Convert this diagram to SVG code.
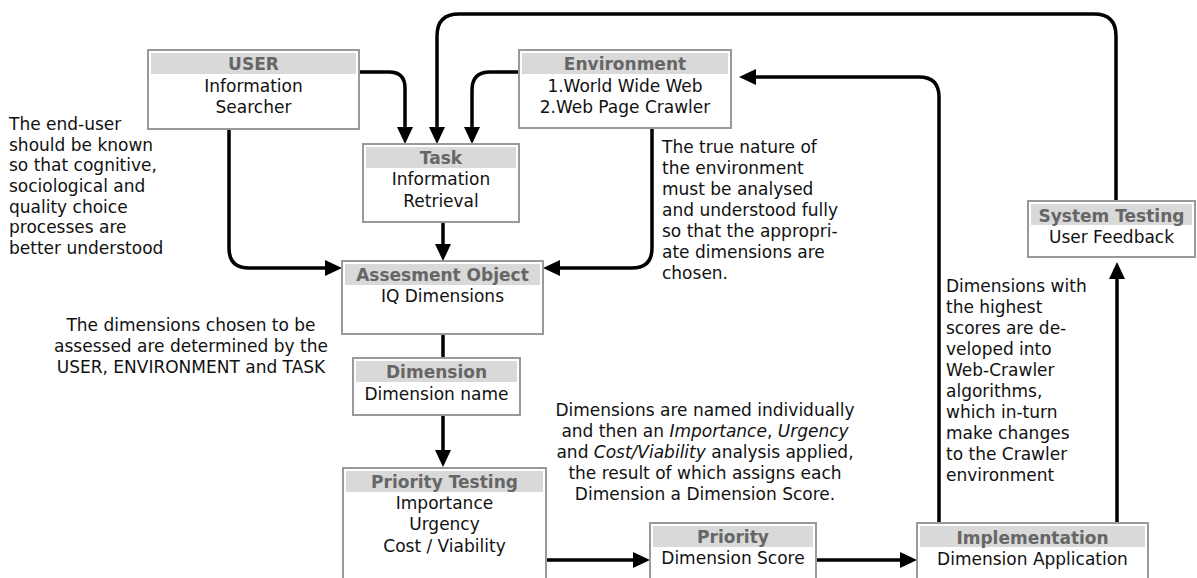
<svg xmlns="http://www.w3.org/2000/svg" width="1197" height="578" viewBox="0 0 1197 578">
<style>
  .box{fill:#fff;stroke:#999;stroke-width:2}
  .band{fill:#d9d9d9}
  .hd{font-family:"DejaVu Sans",Verdana,sans-serif;font-size:17px;font-weight:bold;fill:#666;text-anchor:middle}
  .tx{font-family:"DejaVu Sans",Verdana,sans-serif;font-size:17px;fill:#111;text-anchor:middle}
  .an{font-family:"DejaVu Sans",Verdana,sans-serif;font-size:17px;fill:#111}
  .c{text-anchor:middle}
  .ln{fill:none;stroke:#000;stroke-width:3.5}
  .it{font-style:italic}
</style>
<defs>
  <marker id="ah" markerUnits="userSpaceOnUse" markerWidth="18" markerHeight="16" refX="0" refY="8" orient="auto">
    <path d="M0,0 L17,8 L0,16 z" fill="#000"/>
  </marker>
</defs>

<g id="connectors">
  <path class="ln" d="M360 72 H389 Q405 72 405 88 V127" marker-end="url(#ah)"/>
  <path class="ln" d="M1116 201 V36 Q1116 14 1094 14 H459 Q437 14 437 36 V127" marker-end="url(#ah)"/>
  <path class="ln" d="M519 72 H490 Q472 72 472 90 V127" marker-end="url(#ah)"/>
  <path class="ln" d="M443 222 V244" marker-end="url(#ah)"/>
  <path class="ln" d="M229 129 V248 Q229 268 249 268 H325" marker-end="url(#ah)"/>
  <path class="ln" d="M652 128 V248 Q652 268 632 268 H560" marker-end="url(#ah)"/>
  <path class="ln" d="M443 334 V358"/>
  <path class="ln" d="M443 415 V450" marker-end="url(#ah)"/>
  <path class="ln" d="M546 560 H633" marker-end="url(#ah)"/>
  <path class="ln" d="M816 560 H900" marker-end="url(#ah)"/>
  <path class="ln" d="M939 523 V97 Q939 77 919 77 H756" marker-end="url(#ah)"/>
  <path class="ln" d="M1117 523 V279" marker-end="url(#ah)"/>
</g>

<g id="user">
  <rect class="box" x="148" y="50" width="211" height="79"/>
  <rect class="band" x="151" y="53" width="205" height="21"/>
  <text class="hd" x="253.5" y="70">USER</text>
  <text class="tx" x="253.5" y="92">Information</text>
  <text class="tx" x="253.5" y="113">Searcher</text>
</g>

<g id="environment">
  <rect class="box" x="519" y="50" width="212" height="78"/>
  <rect class="band" x="522" y="53" width="206" height="21"/>
  <text class="hd" x="625" y="70">Environment</text>
  <text class="tx" x="625" y="92">1.World Wide Web</text>
  <text class="tx" x="625" y="113">2.Web Page Crawler</text>
</g>

<g id="task">
  <rect class="box" x="363" y="144" width="156" height="78"/>
  <rect class="band" x="366" y="147" width="150" height="21"/>
  <text class="hd" x="441" y="164">Task</text>
  <text class="tx" x="441" y="185">Information</text>
  <text class="tx" x="441" y="207">Retrieval</text>
</g>

<g id="assessment">
  <rect class="box" x="342" y="261" width="201" height="73"/>
  <rect class="band" x="345" y="264" width="195" height="21"/>
  <text class="hd" x="442.5" y="281">Assesment Object</text>
  <text class="tx" x="442.5" y="302">IQ Dimensions</text>
</g>

<g id="dimension">
  <rect class="box" x="353" y="358" width="167" height="57"/>
  <rect class="band" x="356" y="361" width="161" height="21"/>
  <text class="hd" x="436.5" y="378">Dimension</text>
  <text class="tx" x="436.5" y="400">Dimension name</text>
</g>

<g id="priority-testing">
  <rect class="box" x="343" y="468" width="203" height="130"/>
  <rect class="band" x="346" y="471" width="197" height="21"/>
  <text class="hd" x="444.5" y="488">Priority Testing</text>
  <text class="tx" x="444.5" y="509">Importance</text>
  <text class="tx" x="444.5" y="530">Urgency</text>
  <text class="tx" x="444.5" y="552">Cost / Viability</text>
</g>

<g id="priority">
  <rect class="box" x="650" y="523" width="166" height="80"/>
  <rect class="band" x="653" y="526" width="160" height="21"/>
  <text class="hd" x="733" y="543">Priority</text>
  <text class="tx" x="733" y="564">Dimension Score</text>
</g>

<g id="implementation">
  <rect class="box" x="917" y="523" width="231" height="80"/>
  <rect class="band" x="920" y="526" width="225" height="21"/>
  <text class="hd" x="1032.5" y="544">Implementation</text>
  <text class="tx" x="1032.5" y="565">Dimension Application</text>
</g>

<g id="system-testing">
  <rect class="box" x="1028" y="201" width="167" height="56"/>
  <rect class="band" x="1031" y="204" width="161" height="21"/>
  <text class="hd" x="1111.5" y="222">System Testing</text>
  <text class="tx" x="1111.5" y="243">User Feedback</text>
</g>

<g id="notes">
  <text class="an" x="9" y="130">The end-user</text>
  <text class="an" x="9" y="151">should be known</text>
  <text class="an" x="9" y="171">so that cognitive,</text>
  <text class="an" x="9" y="192">sociological and</text>
  <text class="an" x="9" y="213">quality choice</text>
  <text class="an" x="9" y="233">processes are</text>
  <text class="an" x="9" y="254">better understood</text>

  <text class="an" x="662" y="153">The true nature of</text>
  <text class="an" x="662" y="174">the environment</text>
  <text class="an" x="662" y="195">must be analysed</text>
  <text class="an" x="662" y="216">and understood fully</text>
  <text class="an" x="662" y="237">so that the appropri-</text>
  <text class="an" x="662" y="258">ate dimensions are</text>
  <text class="an" x="662" y="279">chosen.</text>

  <text class="an c" x="191" y="331">The dimensions chosen to be</text>
  <text class="an c" x="191" y="352">assessed are determined by the</text>
  <text class="an c" x="191" y="373">USER, ENVIRONMENT and TASK</text>

  <text class="an c" x="705" y="416">Dimensions are named individually</text>
  <text class="an c" x="705" y="437">and then an <tspan class="it">Importance</tspan>, <tspan class="it">Urgency</tspan></text>
  <text class="an c" x="705" y="458">and <tspan class="it">Cost/Viability</tspan> analysis applied,</text>
  <text class="an c" x="705" y="479">the result of which assigns each</text>
  <text class="an c" x="705" y="500">Dimension a Dimension Score.</text>

  <text class="an" x="946" y="292">Dimensions with</text>
  <text class="an" x="946" y="313">the highest</text>
  <text class="an" x="946" y="334">scores are de-</text>
  <text class="an" x="946" y="355">veloped into</text>
  <text class="an" x="946" y="376">Web-Crawler</text>
  <text class="an" x="946" y="397">algorithms,</text>
  <text class="an" x="946" y="418">which in-turn</text>
  <text class="an" x="946" y="439">make changes</text>
  <text class="an" x="946" y="460">to the Crawler</text>
  <text class="an" x="946" y="481">environment</text>
</g>
</svg>
